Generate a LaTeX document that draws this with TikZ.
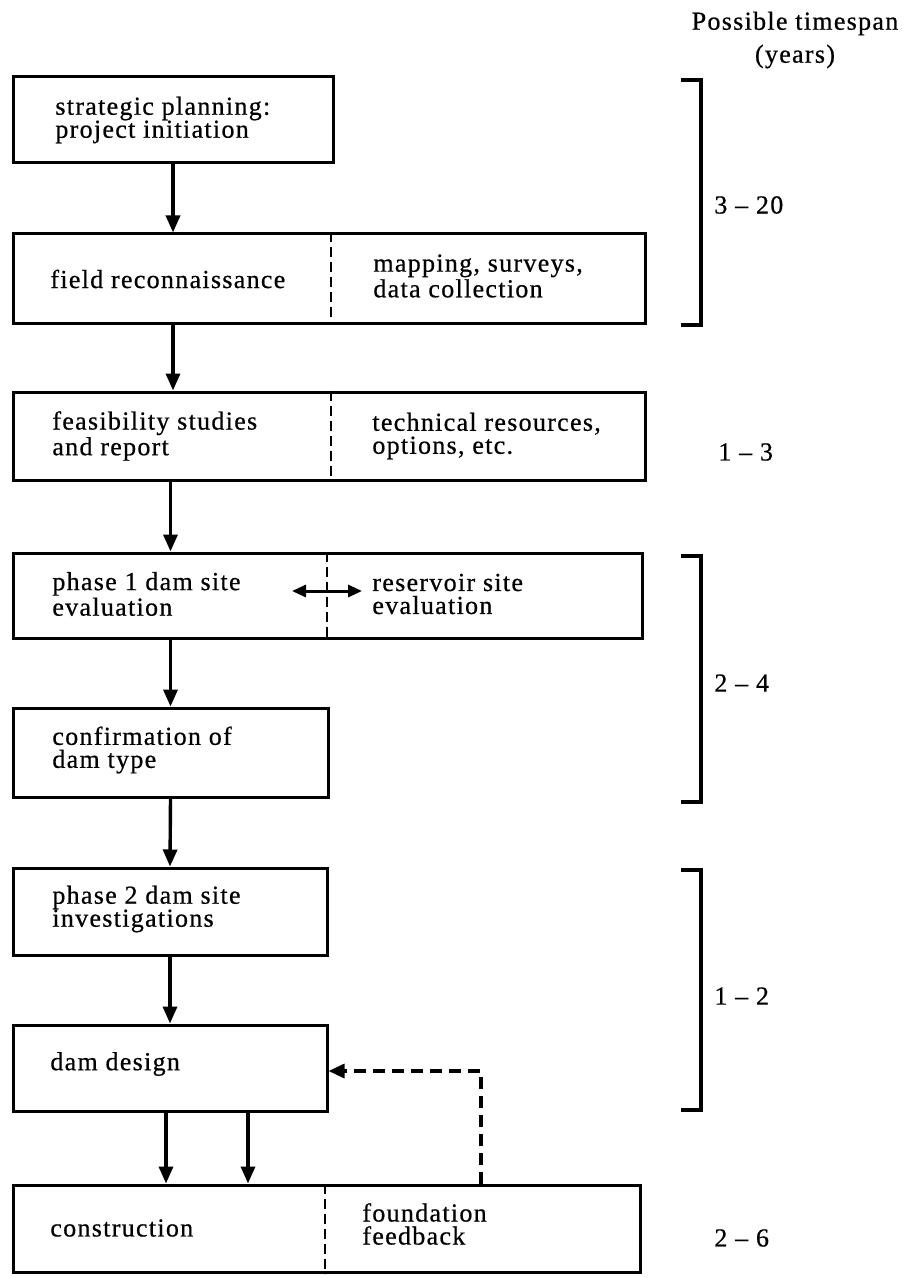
\documentclass[tikz,border=0pt]{standalone}
\usepackage{fontspec}
\setmainfont{Liberation Serif}[LetterSpace=5,FakeBold=0.6]
\usetikzlibrary{arrows.meta,fit}
\begin{document}
\begin{tikzpicture}[x=0.5pt,y=-0.5pt,
  box/.style={draw, line width=1.5pt, inner sep=0pt},
  divider/.style={line width=1.2pt, dash pattern=on 5pt off 2.5pt},
  lbl/.style={anchor=west, align=left, inner sep=0pt, font=\fontsize{13}{11.5}\selectfont},
  flow/.style={line width=1.7pt, -{Triangle[length=8.5pt,width=7pt]}},
  dbl/.style={line width=1.5pt, {Triangle[length=7pt,width=6pt]}-{Triangle[length=7pt,width=6pt]}},
  fbline/.style={line width=1.6pt, dash pattern=on 6pt off 3.5pt, -{Triangle[length=8pt,width=7pt]}},
  span/.style={line width=1.7pt},
  tlbl/.style={anchor=west, inner sep=0pt, font=\fontsize{13}{11.5}\selectfont}]
\useasboundingbox (0,0) rectangle (909,1278);

% boxes
\node[box, fit={(13,77) (333,163)}] (b1) {};
\node[box, fit={(13,234) (645,324)}] (b2) {};
\node[box, fit={(13,392) (645,480)}] (b3) {};
\node[box, fit={(13,553) (642,638)}] (b4) {};
\node[box, fit={(13,708) (328,797)}] (b5) {};
\node[box, fit={(13,868) (327,955)}] (b6) {};
\node[box, fit={(13,1025) (327,1111)}] (b7) {};
\node[box, fit={(13,1185) (640,1272)}] (b8) {};

% dividers
\coordinate (d2) at (331,0);
\coordinate (d4) at (327,0);
\coordinate (d8) at (325,0);
\draw[divider] (b2.north -| d2) -- (b2.south -| d2);
\draw[divider] (b3.north -| d2) -- (b3.south -| d2);
\draw[divider] (b4.north -| d4) -- (b4.south -| d4);
\draw[divider] (b8.north -| d8) -- (b8.south -| d8);

% texts
\node[lbl] (t1) at (55,120) {strategic planning:\\project initiation};
\node[lbl] (t2a) at (50,279) {field reconnaissance};
\node[lbl] (t2b) at (373,276) {mapping, surveys,\\data collection};
\node[lbl] (t3a) at (52,436) {feasibility studies\\and report};
\node[lbl] (t3b) at (372,436) {technical resources,\\options, etc.};
\node[lbl] (t4a) at (52,594) {phase 1 dam site\\evaluation};
\node[lbl] (t4b) at (372,594) {reservoir site\\evaluation};
\node[lbl] (t5) at (52,750) {confirmation of\\dam type};
\node[lbl] (t6) at (52,909) {phase 2 dam site\\investigations};
\node[lbl] (t7) at (50,1064) {dam design};
\node[lbl] (t8a) at (50,1228) {construction};
\node[lbl] (t8b) at (362,1224) {foundation\\feedback};

% flow arrows
\draw[flow] (b1.south) -- (b1.south |- b2.north);
\draw[flow] (b1.south |- b2.south) -- (b1.south |- b3.north);
\draw[flow] (b5.north |- b3.south) -- (b5.north |- b4.north);
\draw[flow] (b5.north |- b4.south) -- (b5.north);
\draw[flow] (b5.south) -- (b6.north);
\draw[flow] (b6.south) -- (b7.north);
\draw[flow] ([xshift=-2pt]b7.south) -- ([xshift=-2pt]b7.south |- b8.north);
\draw[flow] ([xshift=39pt]b7.south) -- ([xshift=39pt]b7.south |- b8.north);

% double arrow between dam site and reservoir site
\coordinate (da) at (292,591);
\coordinate (db) at (362,591);
\draw[dbl] (da) -- (db);

% feedback
\coordinate (fb) at (481,1071);
\draw[fbline] (b8.north -| fb) -- (fb) -- (b7.east |- fb);

% timespan header
\node[align=center, inner sep=0pt, font=\fontsize{13}{16.5}\selectfont] (hdr) at (795,40) {Possible timespan\\(years)};

% brackets
\draw[span] (681,80) -- (701,80) -- (701,325) -- (681,325);
\draw[span] (681,556) -- (701,556) -- (701,802) -- (681,802);
\draw[span] (681,870) -- (701,870) -- (701,1110) -- (681,1110);

% spans
\node[tlbl] (s1) at (714,205) {3 – 20};
\node[tlbl] (s2) at (718,452) {1 – 3};
\node[tlbl] (s3) at (714,683) {2 – 4};
\node[tlbl] (s4) at (714,996) {1 – 2};
\node[tlbl] (s5) at (714,1238) {2 – 6};
\end{tikzpicture}
\end{document}
